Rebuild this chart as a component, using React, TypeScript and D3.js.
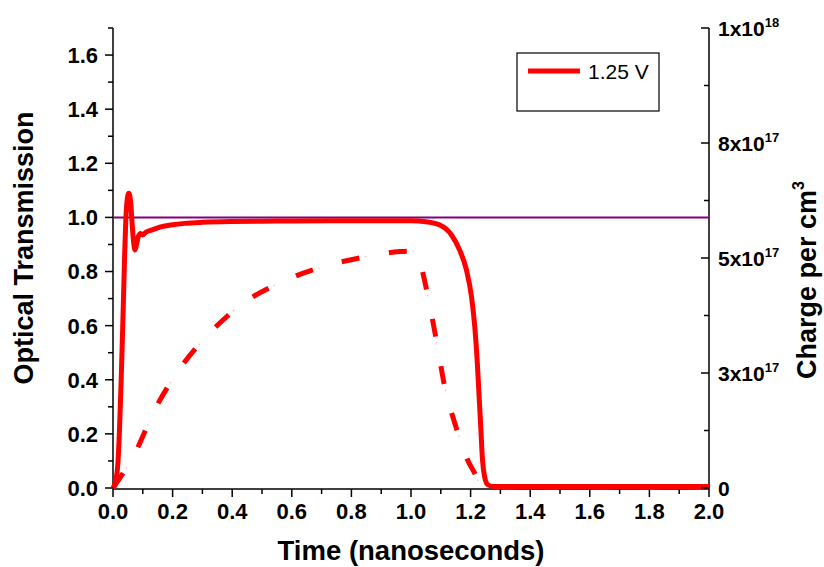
import React from "react";
import * as d3 from "d3";

// Optical transmission (left axis) for the 1.25 V drive
const timeOT = [0, 0.008, 0.017, 0.022, 0.028, 0.034, 0.039, 0.043, 0.047, 0.053, 0.059, 0.064, 0.069, 0.074, 0.079, 0.085, 0.093, 0.1, 0.11, 0.129, 0.16, 0.2, 0.24, 0.3, 0.4, 0.5, 0.6, 0.8, 1.0, 1.05, 1.097, 1.136, 1.163, 1.186, 1.203, 1.214, 1.222, 1.228, 1.234, 1.24, 1.247, 1.258, 1.275, 1.4, 1.6, 1.8, 2.0];
const transmission = [0, 0.02, 0.1, 0.22, 0.42, 0.65, 0.86, 0.99, 1.06, 1.089, 1.06, 0.98, 0.91, 0.88, 0.9, 0.93, 0.941, 0.935, 0.945, 0.953, 0.965, 0.973, 0.978, 0.982, 0.985, 0.986, 0.987, 0.988, 0.988, 0.984, 0.972, 0.935, 0.88, 0.806, 0.707, 0.596, 0.473, 0.35, 0.227, 0.103, 0.042, 0.012, 0.006, 0.006, 0.006, 0.006, 0.006];

// Charge density (right axis), in units of 1e17 per cm^3
const timeQ = [0, 0.073, 0.14, 0.213, 0.313, 0.436, 0.57, 0.7, 0.834, 0.962, 1.0, 1.025, 1.04, 1.068, 1.091, 1.113, 1.147, 1.19, 1.219, 1.235, 1.4, 1.6, 1.8, 2.0];
const charge = [0, 0.75, 1.7, 2.49, 3.29, 4.01, 4.49, 4.8, 5.01, 5.14, 5.15, 5.05, 4.67, 3.8, 3.0, 2.2, 1.41, 0.61, 0.25, 0.01, 0.01, 0.01, 0.01, 0.01];

const xTicks = [0, 0.2, 0.4, 0.6, 0.8, 1.0, 1.2, 1.4, 1.6, 1.8, 2.0];
const yTicks = [0, 0.2, 0.4, 0.6, 0.8, 1.0, 1.2, 1.4, 1.6];
const rightTicks = [0, 2.5, 5, 7.5, 10];
const rightTickLabels = [
  { base: "0", exp: "" },
  { base: "3x10", exp: "17" },
  { base: "5x10", exp: "17" },
  { base: "8x10", exp: "17" },
  { base: "1x10", exp: "18" },
];
const referenceLevel = 1.0;
const legendLabel = "1.25 V";

const W = 824;
const H = 567;
const left = 113;
const right = 709;
const top = 28;
const bottom = 488;
const font = "'Liberation Sans', Arial, sans-serif";

export default function App() {
  const x = d3.scaleLinear().domain([0, 2]).range([left, right]);
  const y = d3.scaleLinear().domain([0, 1.7]).range([bottom, top]);
  const yR = d3.scaleLinear().domain([0, 10]).range([bottom, top]);

  const otLine = d3
    .line<number>()
    .x((_, i) => x(timeOT[i]))
    .y((d) => y(d))
    .curve(d3.curveMonotoneX);
  const qLine = d3
    .line<number>()
    .x((_, i) => x(timeQ[i]))
    .y((d) => yR(d))
    .curve(d3.curveMonotoneX);

  const xMinor = d3.range(0, 2.0001, 0.1);
  const yMinor = d3.range(0, 1.7001, 0.1);
  const rMinor = d3.range(0, 10.001, 1.25);

  const tickColor = "#000";

  return (
    <svg width={W} height={H} style={{ position: "absolute", left: 0, top: 0, background: "#fff" }}>
      {/* axes lines */}
      <line x1={left} x2={left} y1={top} y2={bottom + 0.5} stroke={tickColor} strokeWidth={1.5} />
      <line x1={left} x2={right} y1={bottom + 1} y2={bottom + 1} stroke={tickColor} strokeWidth={1.5} />
      <line x1={right} x2={right} y1={top} y2={bottom + 1.5} stroke={tickColor} strokeWidth={1.5} />

      {/* reference level */}
      <line x1={left} x2={right} y1={y(referenceLevel)} y2={y(referenceLevel)} stroke="#800080" strokeWidth={2} />

      {/* charge density, dash-dot */}
      <path d={qLine(charge) || ""} fill="none" stroke="#ff0000" strokeWidth={5} strokeDasharray="18 30" />
      <path d={qLine(charge) || ""} fill="none" stroke="#ffb4b4" strokeWidth={1.2} strokeDasharray="0 23.5 1.5 23" />

      {/* optical transmission */}
      <path d={otLine(transmission) || ""} fill="none" stroke="#ff0000" strokeWidth={5} strokeLinejoin="round" />

      {/* bottom ticks */}
      {xMinor.map((t, i) => (
        <line key={"xm" + i} x1={x(t)} x2={x(t)} y1={bottom + 1} y2={bottom + 1 + (i % 2 === 0 ? 8 : 5)} stroke={tickColor} strokeWidth={1.5} />
      ))}
      {xTicks.map((t) => (
        <text key={"xl" + t} x={x(t)} y={519} textAnchor="middle" fontFamily={font} fontWeight="bold" fontSize={22}>
          {t.toFixed(1)}
        </text>
      ))}

      {/* left ticks */}
      {yMinor.map((t, i) => (
        <line key={"ym" + i} x1={left - (i % 2 === 0 ? 8 : 5)} x2={left} y1={y(t)} y2={y(t)} stroke={tickColor} strokeWidth={1.5} />
      ))}
      {yTicks.map((t) => (
        <text key={"yl" + t} x={98} y={y(t)} dy="0.36em" textAnchor="end" fontFamily={font} fontWeight="bold" fontSize={22}>
          {t.toFixed(1)}
        </text>
      ))}

      {/* right ticks */}
      {rMinor.map((t, i) => (
        <line key={"rm" + i} x1={right - (i % 2 === 0 ? 8 : 5)} x2={right} y1={yR(t)} y2={yR(t)} stroke={tickColor} strokeWidth={1.5} />
      ))}
      {rightTicks.map((t, i) => (
        <text key={"rl" + t} x={718} y={yR(t)} dy="0.36em" fontFamily={font} fontWeight="bold" fontSize={21}>
          {rightTickLabels[i].base}
          {rightTickLabels[i].exp && (
            <tspan dy="-9" fontSize={13}>
              {rightTickLabels[i].exp}
            </tspan>
          )}
        </text>
      ))}

      {/* axis titles */}
      <text x={411} y={560} textAnchor="middle" fontFamily={font} fontWeight="bold" fontSize={27.5}>
        Time (nanoseconds)
      </text>
      <text transform="translate(33,248) rotate(-90)" textAnchor="middle" fontFamily={font} fontWeight="bold" fontSize={27}>
        Optical Transmission
      </text>
      <text transform="translate(816,280) rotate(-90)" textAnchor="middle" fontFamily={font} fontWeight="bold" fontSize={27}>
        Charge per cm
        <tspan dy="-12" fontSize={16}>3</tspan>
      </text>

      {/* legend */}
      <rect x={517} y={53} width={142} height={58} fill="#fff" stroke="#000" strokeWidth={1.2} />
      <line x1={528} x2={580} y1={71} y2={71} stroke="#ff0000" strokeWidth={5} />
      <text x={588} y={79} fontFamily={font} fontSize={21}>
        {legendLabel}
      </text>
    </svg>
  );
}
